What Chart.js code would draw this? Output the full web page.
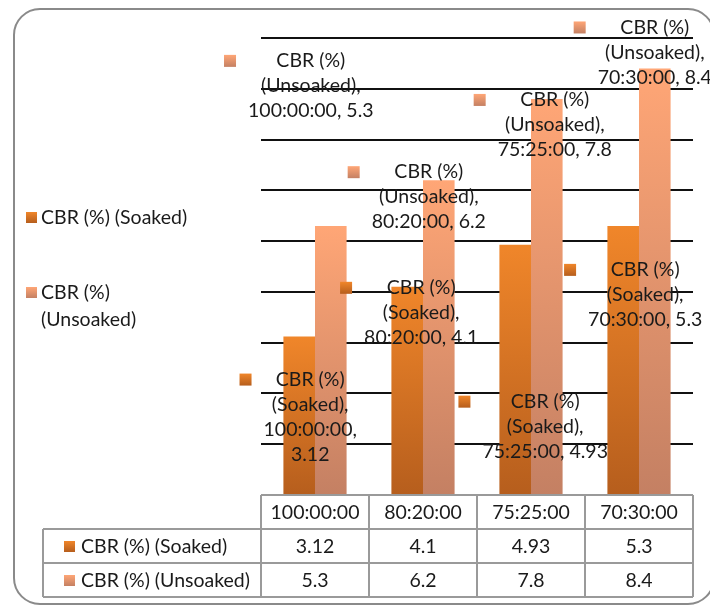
<!DOCTYPE html>
<html>
<head>
<meta charset="utf-8">
<script src="https://cdn.jsdelivr.net/npm/chart.js@4.4.1/dist/chart.umd.min.js"></script>
<style>
  html, body { margin: 0; padding: 0; background: #fff; }
  #wrap { width: 710px; height: 607px; }
</style>
</head>
<body>
<div id="wrap"><canvas id="myChart" width="710" height="607"></canvas></div>
<script>
const categories = ["100:00:00", "80:20:00", "75:25:00", "70:30:00"];
const soaked = [3.12, 4.1, 4.93, 5.3];
const unsoaked = [5.3, 6.2, 7.8, 8.4];
const seriesNames = ["CBR (%) (Soaked)", "CBR (%) (Unsoaked)"];
const yTicks = [0, 1, 2, 3, 4, 5, 6, 7, 8, 9];

// where excel dropped each data label, relative to its bar top (text centre, first line)
const labelOffsets = [
  [[11, 43], [14, 1], [30, 157], [22, 44]],
  [[-20, -165], [-10, -8], [8, 1], [0, -41]]
];

const FONT = "Lato, 'Open Sans', sans-serif";
const FS = 19.5;
const TXT = "#1a1a1a";
const colors = [
  { top: "#F0862A", bottom: "#B65E1D" },
  { top: "#FFA676", bottom: "#C48063" }
];

function barGradient(i) {
  return function (context) {
    const chart = context.chart;
    const { chartArea, scales } = chart;
    if (!chartArea || context.parsed == null) return colors[i].top;
    const y0 = scales.y.getPixelForValue(context.parsed.y);
    const y1 = scales.y.getPixelForValue(0);
    const g = chart.ctx.createLinearGradient(0, y0, 0, y1);
    g.addColorStop(0, colors[i].top);
    g.addColorStop(1, colors[i].bottom);
    return g;
  };
}

function keySquare(ctx, i, x, y, s) {
  const g = ctx.createLinearGradient(0, y, 0, y + s);
  g.addColorStop(0, colors[i].top);
  g.addColorStop(1, colors[i].bottom);
  ctx.fillStyle = g;
  ctx.fillRect(x, y, s, s);
  ctx.fillStyle = TXT;
}

const excelBits = {
  id: "excelBits",
  beforeDraw(chart) {
    const ctx = chart.ctx;
    ctx.save();
    ctx.fillStyle = "#fff";
    ctx.fillRect(0, 0, chart.width, chart.height);
    // rounded chart frame
    ctx.strokeStyle = "#8a8a8a";
    ctx.lineWidth = 2;
    ctx.beginPath();
    ctx.roundRect(14, 9, 700, 595, 26);
    ctx.stroke();

    // legend on the left
    ctx.font = FS + "px " + FONT;
    ctx.textBaseline = "middle";
    ctx.textAlign = "left";
    keySquare(ctx, 0, 26, 212, 11);
    ctx.fillText(seriesNames[0], 41, 218);
    keySquare(ctx, 1, 26, 287, 11);
    ctx.fillText("CBR (%)", 41, 293);
    ctx.fillText("(Unsoaked)", 41, 320);
    ctx.restore();
  },
  afterDatasetsDraw(chart) {
    const ctx = chart.ctx;
    const x = chart.scales.x;
    const area = chart.chartArea;
    ctx.save();
    ctx.font = FS + "px " + FONT;
    ctx.fillStyle = TXT;
    ctx.textBaseline = "middle";

    // data table under the plot
    const rowH = 34;
    const top = area.bottom;
    const half = (x.getPixelForValue(1) - x.getPixelForValue(0)) / 2;
    const left = x.getPixelForValue(0) - half;
    const right = x.getPixelForValue(categories.length - 1) + half;
    const tblLeft = 43;
    ctx.strokeStyle = "#9a9a9a";
    ctx.lineWidth = 2;
    ctx.beginPath();
    ctx.moveTo(left, top); ctx.lineTo(right, top);
    ctx.moveTo(tblLeft, top + rowH); ctx.lineTo(right, top + rowH);
    ctx.moveTo(tblLeft, top + 2 * rowH); ctx.lineTo(right, top + 2 * rowH);
    ctx.moveTo(tblLeft, top + 3 * rowH); ctx.lineTo(right, top + 3 * rowH);
    ctx.moveTo(tblLeft, top + rowH); ctx.lineTo(tblLeft, top + 3 * rowH);
    for (let i = 0; i <= categories.length; i++) {
      const cx = left + i * 2 * half;
      ctx.moveTo(cx, top); ctx.lineTo(cx, top + 3 * rowH);
    }
    ctx.stroke();

    ctx.textAlign = "center";
    categories.forEach((c, i) => {
      const cx = x.getPixelForValue(i);
      ctx.fillText(c, cx, top + rowH / 2 + 1);
      ctx.fillText(String(soaked[i]), cx, top + rowH * 1.5 + 1);
      ctx.fillText(String(unsoaked[i]), cx, top + rowH * 2.5 + 1);
    });
    ctx.textAlign = "left";
    keySquare(ctx, 0, 64, top + rowH * 1.5 - 5, 11);
    ctx.fillText(seriesNames[0], 81, top + rowH * 1.5 + 1);
    keySquare(ctx, 1, 64, top + rowH * 2.5 - 5, 11);
    ctx.fillText(seriesNames[1], 81, top + rowH * 2.5 + 1);

    // data labels with legend keys
    const wrapAt = 128;
    ctx.textAlign = "center";
    chart.data.datasets.forEach((ds, d) => {
      const meta = chart.getDatasetMeta(d);
      meta.data.forEach((bar, i) => {
        const tail = categories[i] + ", " + ds.data[i];
        let lines = ["CBR (%)", d === 0 ? "(Soaked)," : "(Unsoaked),"];
        if (ctx.measureText(tail).width > wrapAt) {
          lines.push(categories[i] + ",", String(ds.data[i]));
        } else {
          lines.push(tail);
        }
        const cx = bar.x + labelOffsets[d][i][0];
        const cy = bar.y + labelOffsets[d][i][1];
        let w = 0;
        lines.forEach(l => { w = Math.max(w, ctx.measureText(l).width); });
        keySquare(ctx, d, cx - w / 2 - 24, cy - 6, 12);
        lines.forEach((l, k) => ctx.fillText(l, cx, cy + k * 25));
      });
    });
    ctx.restore();
  }
};

new Chart(document.getElementById("myChart"), {
  type: "bar",
  plugins: [excelBits],
  data: {
    labels: categories,
    datasets: [
      { label: seriesNames[0], data: soaked, backgroundColor: barGradient(0) },
      { label: seriesNames[1], data: unsoaked, backgroundColor: barGradient(1) }
    ]
  },
  options: {
    responsive: false,
    animation: false,
    events: [],
    layout: { padding: { left: 261, right: 17, top: 38, bottom: 112 } },
    datasets: { bar: { categoryPercentage: 0.585, barPercentage: 1 } },
    plugins: {
      legend: { display: false },
      tooltip: { enabled: false },
      title: { display: false }
    },
    scales: {
      x: { display: false },
      y: {
        min: 0,
        max: 9,
        afterBuildTicks: (axis) => { axis.ticks = yTicks.map(v => ({ value: v })); },
        ticks: { display: false },
        border: { display: false },
        grid: {
          drawTicks: false,
          lineWidth: 2,
          color: (c) => (c.tick && c.tick.value === 0 ? "rgba(0,0,0,0)" : "#111")
        }
      }
    }
  }
});
</script>
</body>
</html>
